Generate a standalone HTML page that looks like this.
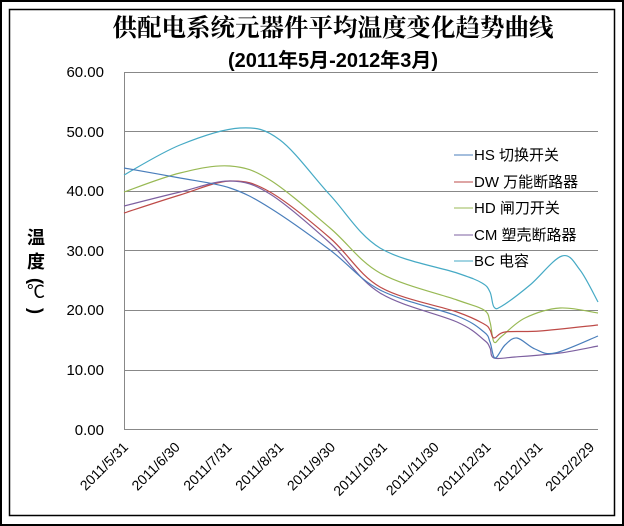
<!DOCTYPE html>
<html><head><meta charset="utf-8"><style>
body{margin:0;background:#fff;}
svg{display:block;}
text{font-family:"Liberation Sans","Noto Sans CJK SC",sans-serif;}
</style></head><body>
<svg id="s" width="624" height="526" viewBox="0 0 624 526" xmlns="http://www.w3.org/2000/svg">
<rect x="1" y="1" width="622" height="524" fill="#fff" stroke="#000" stroke-width="2"/>
<rect x="9.5" y="9.5" width="605" height="506" fill="none" stroke="#000" stroke-width="1.5"/>
<text x="333" y="36" text-anchor="middle" font-size="24.5" font-weight="bold" style="font-family:'Noto Serif CJK SC','Liberation Serif',serif">供配电系统元器件平均温度变化趋势曲线</text>
<text x="333" y="67" text-anchor="middle" font-size="20" font-weight="bold">(2011年5月-2012年3月)</text>
<g stroke="#888" stroke-width="1">
<line x1="124" y1="72.5" x2="598" y2="72.5"/>
<line x1="124" y1="131.5" x2="598" y2="131.5"/>
<line x1="124" y1="191.5" x2="598" y2="191.5"/>
<line x1="124" y1="250.5" x2="598" y2="250.5"/>
<line x1="124" y1="310.5" x2="598" y2="310.5"/>
<line x1="124" y1="370.5" x2="598" y2="370.5"/>
<line x1="124" y1="429.5" x2="598" y2="429.5"/>
<line x1="124.5" y1="72" x2="124.5" y2="430"/>
</g>
<g font-size="15" text-anchor="end" fill="#000">
<text x="104" y="77">60.00</text><text x="104" y="137">50.00</text><text x="104" y="196">40.00</text>
<text x="104" y="256">30.00</text><text x="104" y="315">20.00</text><text x="104" y="375">10.00</text>
<text x="104" y="435">0.00</text>
</g>
<g font-size="18" font-weight="bold" text-anchor="middle">
<text x="36" y="244">温</text><text x="36" y="268">度</text>
<text x="36" y="287" transform="rotate(90 36 281)">(</text>
<text x="36" y="298" font-weight="normal">℃</text>
<text x="36" y="317" transform="rotate(90 36 311)">)</text>
</g>
<g id="xl" font-size="14" text-anchor="end"></g>
<g id="curves" fill="none" stroke-width="1.2"></g>
<g font-size="15">
<line x1="454" y1="155" x2="473" y2="155" stroke="#4A7EBB"/><text x="474" y="160">HS 切换开关</text>
<line x1="454" y1="182" x2="473" y2="182" stroke="#BE4B48"/><text x="474" y="187">DW 万能断路器</text>
<line x1="454" y1="208" x2="473" y2="208" stroke="#98B954"/><text x="474" y="213">HD 闸刀开关</text>
<line x1="454" y1="235" x2="473" y2="235" stroke="#7D60A0"/><text x="474" y="240">CM 塑壳断路器</text>
<line x1="454" y1="261" x2="473" y2="261" stroke="#46AAC5"/><text x="474" y="266">BC 电容</text>
</g>
</svg>
<script>
var labels=["2011/5/31","2011/6/30","2011/7/31","2011/8/31","2011/9/30","2011/10/31","2011/11/30","2011/12/31","2012/1/31","2012/2/29"];
var xl=document.getElementById("xl"),ns="http://www.w3.org/2000/svg";
labels.forEach(function(l,i){var x=129+i*51.8,y=448;var t=document.createElementNS(ns,"text");t.setAttribute("x",x);t.setAttribute("y",y);t.setAttribute("transform","rotate(-45 "+x+" "+y+")");t.textContent=l;xl.appendChild(t);});
var S={
"#46AAC5":[[124,175],[180,145],[240,128],[280,140],[330,195],[380,248],[457,273],[482,283],[490,292],[494,307],[502,306],[530,285],[562,256],[580,270],[598,302]],
"#98B954":[[124,192],[180,173],[230,166],[270,180],[330,228],[380,273],[457,300],[484,310],[490,322],[494,342],[502,336],[525,318],[560,308],[598,313]],
"#BE4B48":[[124,213],[180,195],[230,181],[270,192],[330,238],[380,287],[457,312],[484,324],[490,330],[494,338],[505,332],[540,331],[598,325]],
"#7D60A0":[[124,206],[180,192],[230,181],[270,194],[330,243],[380,293],[457,322],[484,340],[490,348],[494,358],[515,357],[560,353],[598,346]],
"#4A7EBB":[[124,168],[180,178],[230,188],[270,208],[330,250],[380,290],[457,316],[484,332],[490,342],[495,358],[505,345],[517,338],[535,349],[555,353],[598,336]]
};
var g=document.getElementById("curves");
for(var c in S){var p=S[c],d="M"+p[0][0]+","+p[0][1];
for(var i=0;i<p.length-1;i++){var p0=p[i-1]||p[i],p1=p[i],p2=p[i+1],p3=p[i+2]||p2;
d+=" C"+(p1[0]+(p2[0]-p0[0])/6)+","+(p1[1]+(p2[1]-p0[1])/6)+" "+(p2[0]-(p3[0]-p1[0])/6)+","+(p2[1]-(p3[1]-p1[1])/6)+" "+p2[0]+","+p2[1];}
var e=document.createElementNS(ns,"path");e.setAttribute("d",d);e.setAttribute("stroke",c);g.appendChild(e);}
</script>
</body></html>
